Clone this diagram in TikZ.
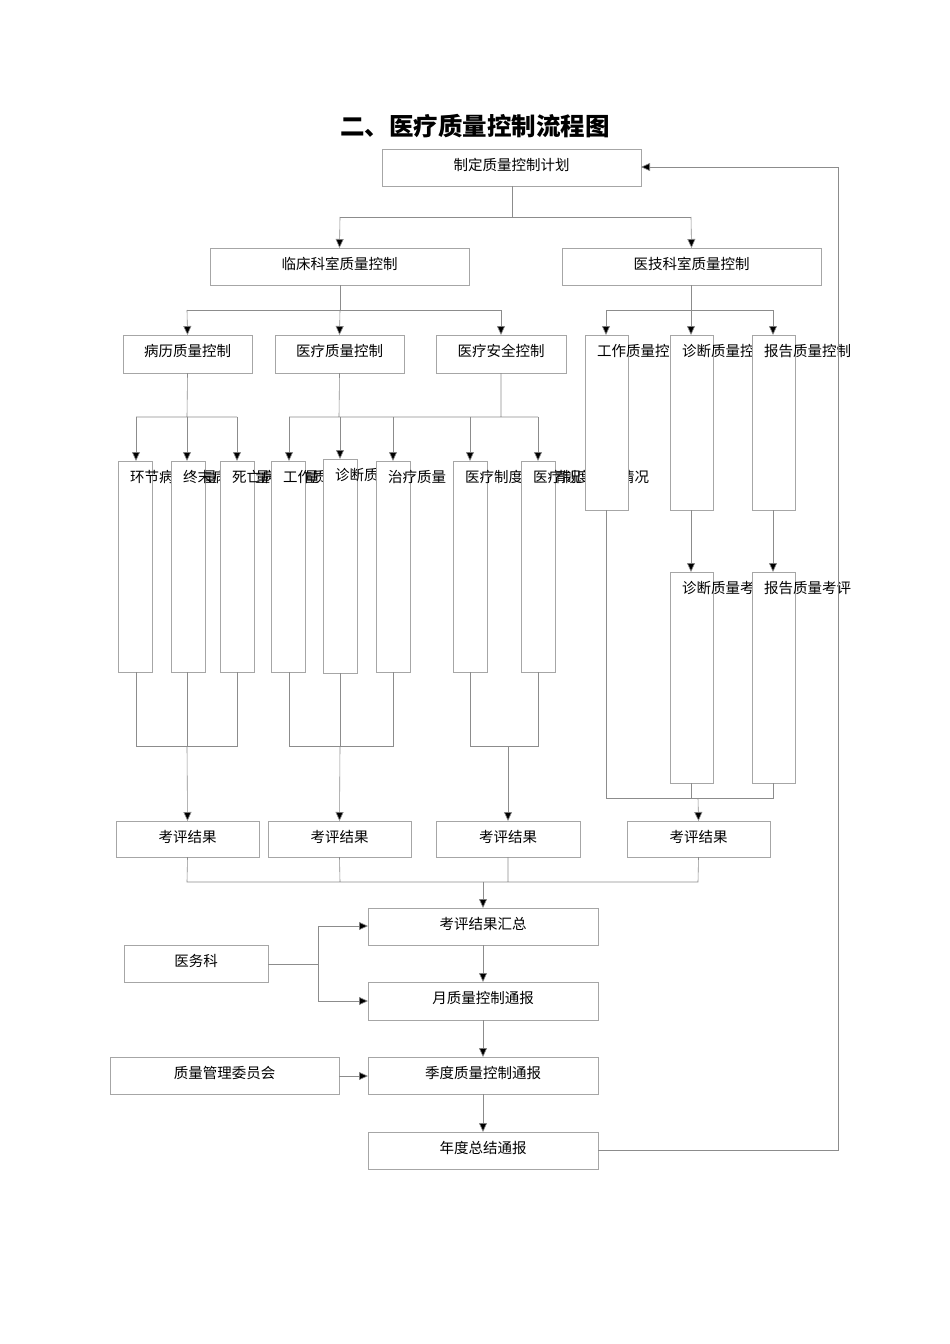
\documentclass[tikz,border=0pt]{standalone}
\usepackage{fontspec}
\setmainfont{Noto Sans CJK SC}
\usetikzlibrary{arrows.meta}
\begin{document}
\begin{tikzpicture}[x=1pt,y=-1pt,
  ln/.style={draw=black!45,line width=0.6pt},
  ar/.style={ln,-{Triangle[length=9pt,width=8pt,fill=black]}},
  bx/.style={draw=black!35,fill=white,line width=0.6pt},
  tx/.style={font=\fontsize{14.5pt}{15pt}\selectfont,inner sep=0pt},
  txl/.style={tx,anchor=west}]
\useasboundingbox (0,0) rectangle (950,1344);
\node[font=\bfseries\fontsize{24.5pt}{25pt}\selectfont] (title) at (475,126) {二、医疗质量控制流程图};
\newcommand{\cbox}[6]{\draw[bx] (#2,#3) rectangle (#4,#5); \node[tx] (#1) at ({(#2+#4)/2},{#3+16}) {#6};
  \coordinate (#1t) at ({(#2+#4)/2},#3); \coordinate (#1b) at ({(#2+#4)/2},#5);}
\newcommand{\tbox}[6]{\draw[bx] (#2,#3) rectangle (#4,#5); \node[txl] (#1) at ({#2+12},{#3+16}) {#6};}
\cbox{plan}{382}{149}{641}{186}{制定质量控制计划}
\cbox{lc}{210}{248}{469}{285}{临床科室质量控制}
\cbox{yj}{562}{248}{821}{285}{医技科室质量控制}
\cbox{bl}{123}{335}{252}{373}{病历质量控制}
\cbox{yl}{275}{335}{404}{373}{医疗质量控制}
\cbox{aq}{436}{335}{566}{373}{医疗安全控制}
\tbox{a1}{118}{461}{152}{672}{环节病历质量}
\tbox{a2}{171}{461}{205}{672}{终末病历质量}
\tbox{a3}{220}{461}{254}{672}{死亡病历质量}
\tbox{b1}{271}{461}{305}{672}{工作质量}
\tbox{b2}{323}{459}{357}{673}{诊断质量}
\tbox{b3}{376}{461}{410}{672}{治疗质量}
\tbox{c1}{453}{461}{487}{672}{医疗制度落实情况}
\tbox{c2}{521}{461}{555}{672}{医疗制度落实情况}
\tbox{d1}{585}{335}{628}{510}{工作质量控制}
\tbox{d2}{670}{335}{713}{510}{诊断质量控制}
\tbox{d3}{752}{335}{795}{510}{报告质量控制}
\tbox{e2}{670}{572}{713}{783}{诊断质量考评}
\tbox{e3}{752}{572}{795}{783}{报告质量考评}
\cbox{k1}{116}{821}{259}{857}{考评结果}
\cbox{k2}{268}{821}{411}{857}{考评结果}
\cbox{k3}{436}{821}{580}{857}{考评结果}
\cbox{k4}{627}{821}{770}{857}{考评结果}
\cbox{hz}{368}{908}{598}{945}{考评结果汇总}
\cbox{yue}{368}{982}{598}{1020}{月质量控制通报}
\cbox{jd}{368}{1057}{598}{1094}{季度质量控制通报}
\cbox{nd}{368}{1132}{598}{1169}{年度总结通报}
\cbox{ywk}{124}{945}{268}{982}{医务科}
\cbox{wyh}{110}{1057}{339}{1094}{质量管理委员会}
\draw[ln] (512,186) -- (512,217) -- (340,217);
\draw[ln] (512,217) -- (691,217);
\draw[ar] (340,217) -- (lct); \draw[ar] (691,217) -- (yjt);
\draw[ln] (340,285) -- (340,310) (187,310) -- (501,310);
\draw[ar] (187,310) -- (blt); \draw[ar] (340,310) -- (ylt); \draw[ar] (501,310) -- (aqt);
\draw[ln] (691,285) -- (691,310) (606,310) -- (773,310);
\draw[ar] (606,310) -- (606,335); \draw[ar] (691,310) -- (691,335); \draw[ar] (773,310) -- (773,335);
\draw[ln] (blb) -- (187,417) (136,417) -- (237,417);
\draw[ar] (136,417) -- (136,461); \draw[ar] (187,417) -- (187,461); \draw[ar] (237,417) -- (237,461);
\draw[ln] (ylb) -- (339,417) (289,417) -- (538,417) (aqb) -- (501,417);
\draw[ar] (289,417) -- (289,461); \draw[ar] (340,417) -- (340,459); \draw[ar] (393,417) -- (393,461);
\draw[ar] (470,417) -- (470,461); \draw[ar] (538,417) -- (538,461);
\draw[ar] (691,510) -- (691,572); \draw[ar] (773,510) -- (773,572);
\draw[ln] (136,672) -- (136,746) -- (237,746) -- (237,672) (187,672) -- (187,746);
\draw[ar] (187,746) -- (k1t);
\draw[ln] (289,672) -- (289,746) -- (393,746) -- (393,672) (340,673) -- (340,746);
\draw[ar] (340,746) -- (k2t);
\draw[ln] (470,672) -- (470,746) -- (538,746) -- (538,672);
\draw[ar] (508,746) -- (k3t);
\draw[ln] (606,510) -- (606,798) -- (773,798) -- (773,783) (691,783) -- (691,798);
\draw[ar] (698,798) -- (k4t);
\draw[ln] (k1b) -- (187,882) -- (698,882) -- (k4b) (k2b) -- (340,882) (k3b) -- (508,882);
\draw[ar] (483,882) -- (hzt);
\draw[ar] (hzb) -- (yuet); \draw[ar] (yueb) -- (jdt); \draw[ar] (jdb) -- (ndt);
\draw[ln] (268,964) -- (318,964) (318,926) -- (318,1001);
\draw[ar] (318,926) -- (368,926); \draw[ar] (318,1001) -- (368,1001);
\draw[ar] (339,1076) -- (368,1076);
\draw[ar] (598,1150) -- (838,1150) -- (838,167) -- (641,167);
\end{tikzpicture}
\end{document}
